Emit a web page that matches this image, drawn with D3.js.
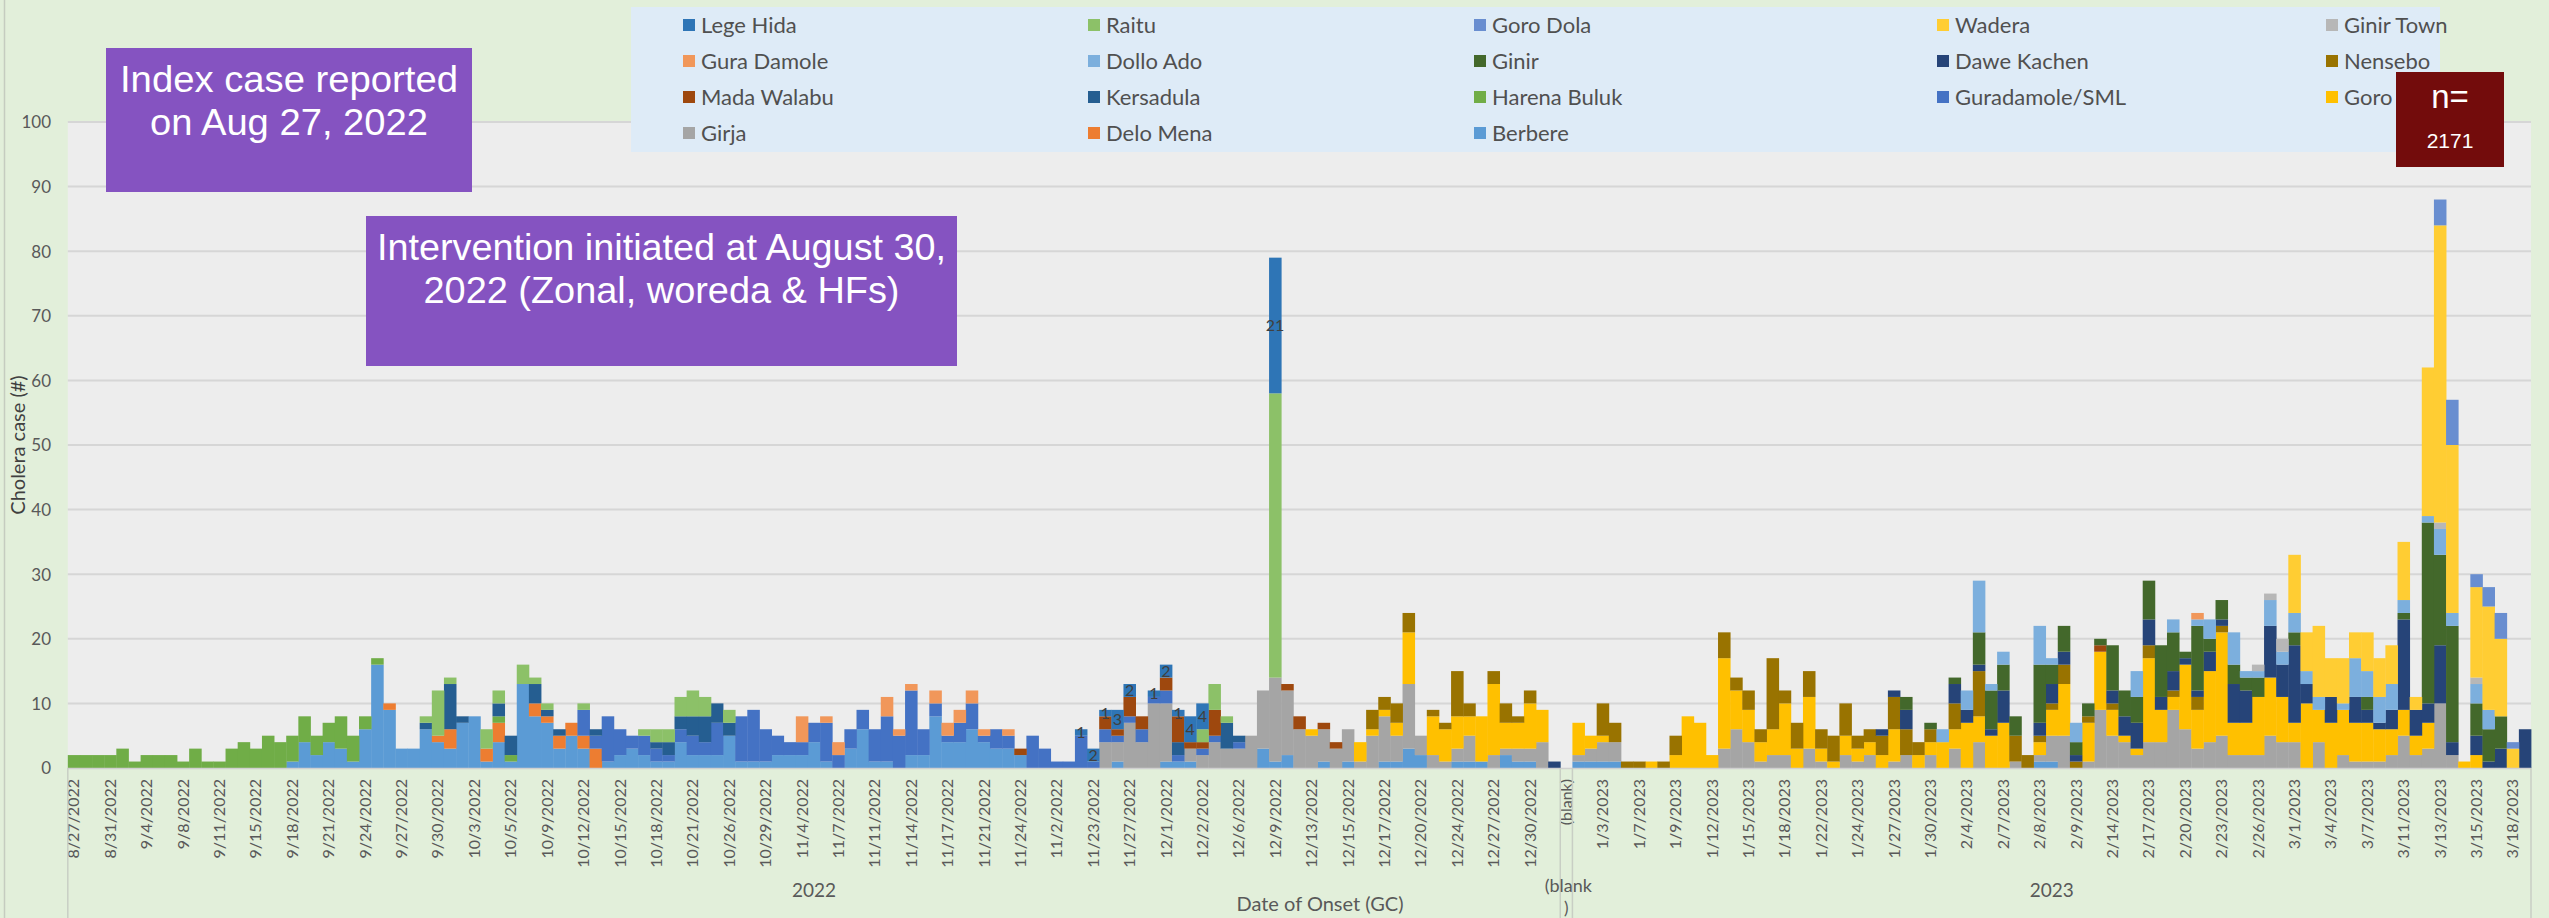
<!DOCTYPE html>
<html><head><meta charset="utf-8">
<script src="https://cdn.jsdelivr.net/npm/d3@7"></script>
<style>
html,body{margin:0;padding:0;background:#E2EFDA;}
svg{display:block;}
</style></head><body>
<svg id="chart" width="2549" height="918"></svg>
<script>
// ---------------- DATA ----------------
const seriesNames  = ["Lege Hida","Raitu","Goro Dola","Wadera","Ginir Town","Gura Damole","Dollo Ado","Ginir","Dawe Kachen","Nensebo","Mada Walabu","Kersadula","Harena Buluk","Guradamole/SML","Goro","Girja","Delo Mena","Berbere"];
const seriesKeys   = ["LH","RA","GD","WA","GT","GU","DA","GI","DK","NE","MW","KE","HB","GS","GO","GJ","DM","BE"];
const seriesColors = ["#2E75B6","#8CC168","#698ED0","#FFCD33","#B7B7B7","#F1975A","#7CAFDD","#43682B","#264478","#997300","#9E480E","#255E91","#70AD47","#4472C4","#FFC000","#A5A5A5","#ED7D31","#5B9BD5"];

// cases per onset date (category), 2022 group
const cases2022 = [
{HB:2},{HB:2},{HB:2},{HB:2},{HB:3},{HB:1},{HB:2},{HB:2},{HB:2},{HB:1},
{HB:3},{HB:1},{HB:1},{HB:3},{HB:4},{HB:3},{HB:5},{HB:4},{BE:1,HB:4},{BE:4,HB:4},
{BE:2,HB:3},{BE:4,HB:3},{BE:3,HB:5},{BE:1,HB:4},{BE:6,HB:2},{BE:16,HB:1},{BE:9,DM:1},{BE:3},{BE:3},{BE:6,KE:1,RA:1},
{BE:4,DM:1,RA:7},{BE:3,DM:3,KE:7,RA:1},{BE:7,KE:1},{BE:8},{BE:1,DM:2,RA:3},{BE:4,DM:3,HB:1,KE:2,RA:2},{BE:1,HB:1,KE:3},{BE:13,RA:3},{BE:8,DM:2,KE:3,RA:1},{BE:7,DM:1,KE:1,RA:1},
{BE:3,DM:2,KE:1},{BE:5,DM:2},{BE:3,DM:2,GS:4,RA:1},{DM:3,GS:2,KE:1},{BE:1,GS:7},{BE:2,GS:4},{BE:3,GS:2},{BE:2,GS:3,RA:1},{BE:1,GS:2,KE:1,RA:2},{BE:1,GS:1,KE:2,RA:2},
{BE:4,GS:2,KE:2,RA:3},{BE:2,GS:3,KE:3,RA:4},{BE:2,GS:2,KE:4,RA:3},{BE:2,GS:5,KE:3},{BE:5,KE:2,RA:2},{BE:1,GS:7},{BE:1,GS:8},{BE:1,GS:5},{BE:2,GS:3},{BE:2,GS:2},
{BE:2,GS:2,GU:4},{BE:4,GS:3},{BE:1,GS:6,GU:1},{GS:2,GU:2},{BE:3,GS:3},{BE:6,GS:3},{BE:1,GS:5},{BE:1,GS:7,GU:3},{GS:5,GU:1},{BE:2,GS:10,GU:1},
{BE:2,GS:4},{BE:8,GS:2,GU:2},{BE:4,GS:1,GU:2},{BE:4,GS:3,GU:2},{BE:6,GS:4,GU:2},{BE:4,GS:1,GU:1},{BE:3,GS:3},{BE:3,GS:2,GU:1},{BE:2,MW:1},{GS:5},
{GS:3},{GS:1},{GS:1},{GS:5,LH:1},{GS:1,LH:2},{GJ:4,GS:2,MW:2,LH:1},{BE:1,GJ:3,GS:1,MW:1,LH:3},{GJ:7,GS:1,MW:3,LH:2},{GJ:4,GS:2,MW:2},{GJ:10,GS:1,LH:1},
{BE:1,GJ:9,GS:2,MW:2,LH:2},{BE:1,GS:1,KE:2,MW:4,LH:1},{BE:1,GJ:2,MW:1,LH:4},{GJ:2,GS:1,MW:1,RA:2,LH:4},{GJ:4,GS:1,MW:4,RA:4},{GJ:3,KE:4,RA:1},{GJ:3,GS:1,KE:1},{GJ:5},{BE:3,GJ:9},{BE:1,GJ:13,RA:44,LH:21},
{BE:2,GJ:10,MW:1},{GJ:6,MW:2},{GJ:5,GO:1},{BE:1,GJ:5,MW:1},{GJ:3,MW:1},{BE:1,GJ:5},{GJ:1,GO:3},{GJ:5,GO:1,NE:3},{BE:1,GJ:7,GO:1,NE:2},{BE:1,GJ:4,GO:2,NE:3},
{BE:3,GJ:10,GO:8,NE:3},{BE:2,GJ:3},{GJ:2,GO:6,NE:1},{GJ:1,GO:5,NE:1},{BE:1,GJ:2,GO:5,NE:7},{BE:1,GJ:4,GO:3,NE:2},{BE:1,GO:7},{GJ:2,GO:11,NE:2},{BE:2,GJ:1,GO:4,NE:3},{BE:1,GJ:2,GO:4,NE:1},
{BE:1,GJ:2,GO:7,NE:2},{GJ:4,GO:5},{DK:1}
];
// (blank) group
const casesBlank = [{}];
// 2023 group
const cases2023 = [
{BE:1,GJ:1,GO:5},{BE:1,GJ:2,GO:2},{BE:1,GJ:3,GO:1,NE:5},{BE:1,GJ:3,NE:3},{NE:1},{NE:1},{GO:1},{NE:1},{GO:2,NE:3},{GO:8},
{GO:7},{GO:2},{GJ:3,GO:14,NE:4},{GJ:6,GO:6,NE:2},{GJ:4,GO:5,NE:3},{GJ:1,GO:3,NE:2},{GJ:2,GO:4,NE:11},{GJ:2,GO:8,NE:2},{GO:3,NE:4},{GJ:3,GO:8,NE:4},
{GJ:1,GO:2,NE:3},{GO:1,NE:4},{GJ:2,GO:3,NE:5},{GJ:1,GO:2,NE:2},{GJ:2,GO:2,NE:2},{GO:2,NE:3,DK:1},{GJ:1,GO:5,NE:5,DK:1},{GJ:2,NE:4,DK:3,GI:2},{GO:2,NE:2},{GJ:2,GO:2,NE:2,GI:1},
{GO:4,DA:2},{GJ:3,GO:3,NE:4,DK:3,GI:1},{GO:7,DK:2,DA:3},{GJ:4,GO:4,NE:7,DK:1,GI:5,DA:8},{GO:5,DK:1,GI:6,DA:1},{GO:7,DK:5,GI:4,DA:2},{GJ:1,NE:4,GI:3},{NE:2},{BE:1,GJ:1,GO:2,NE:1,DK:2,GI:9,DA:6},{BE:1,GJ:4,GO:4,NE:1,DK:3,GI:3,DA:1},
{GJ:5,GO:8,NE:3,DK:2,GI:4},{NE:1,DK:1,GI:2,DA:3},{GJ:1,GO:6,NE:1,GI:2},{GJ:9,GO:9,MW:1,GI:1},{GJ:5,GO:4,NE:1,DK:2,GI:7},{GJ:4,GO:1,DK:3,GI:4},{GJ:2,GO:1,DK:4,GI:4,DA:4},{GJ:4,GO:13,NE:2,DK:4,GI:6},{GJ:4,GO:5,DK:2,GI:8},{GJ:9,GO:2,NE:1,DK:3,GI:6,DA:2},
{GJ:6,GO:10,DK:1,GI:1},{GJ:3,GO:6,NE:2,DK:1,GI:10,DA:1,GU:1},{GJ:4,GO:11,DK:3,GI:2,DA:3},{GJ:5,GO:16,NE:1,DK:1,GI:3},{GJ:2,GO:5,DK:6,GI:3,DA:5},{GJ:2,GO:5,DK:5,GI:2,DA:1},{GJ:2,GO:9,GI:3,DA:1,GT:1},{GJ:5,GO:9,DK:8,DA:4,GT:1},{GJ:4,GO:7,DK:5,DA:2,GT:2},{GJ:4,GO:3,DK:12,GI:2,DA:3,WA:9},
{GO:10,DK:3,DA:2,WA:6},{GJ:4,GO:5,DA:2,WA:11},{GO:7,DK:4,WA:6},{GJ:2,GO:7,DA:1,WA:7},{GJ:1,GO:6,DK:4,DA:6,WA:4},{GJ:1,GO:6,DK:2,GI:2,DA:4,WA:6},{GJ:1,GO:5,DK:1,DA:4,WA:6},{GJ:2,GO:4,DK:3,DA:4,WA:6},{GJ:5,GO:4,DK:14,GI:1,DA:2,WA:9},{GJ:2,GO:3,DK:4,WA:2},
{GJ:3,GO:4,DK:3,GI:28,DA:1,WA:23},{GJ:10,DK:9,GI:14,DA:4,GT:1,WA:46,GD:4},{GJ:2,DK:2,GI:18,DA:2,WA:26,GD:7},{GO:1},{GO:2,DK:3,GI:5,DA:3,GT:1,WA:14,GD:2},{DK:1,GI:5,DA:3,WA:16,GD:3},{DK:3,GI:5,WA:12,GD:4},{WA:3,GD:1},{DK:6}
];

// tick labels (every third category)
const tickLabels2022 = ["8/27/2022","8/31/2022","9/4/2022","9/8/2022","9/11/2022","9/15/2022","9/18/2022","9/21/2022","9/24/2022","9/27/2022","9/30/2022","10/3/2022","10/5/2022","10/9/2022","10/12/2022","10/15/2022","10/18/2022","10/21/2022","10/26/2022","10/29/2022","11/4/2022","11/7/2022","11/11/2022","11/14/2022","11/17/2022","11/21/2022","11/24/2022","11/2/2022","11/23/2022","11/27/2022","12/1/2022","12/2/2022","12/6/2022","12/9/2022","12/13/2022","12/15/2022","12/17/2022","12/20/2022","12/24/2022","12/27/2022","12/30/2022"];
const tickLabelsBlank = ["(blank)"];
const tickLabels2023 = ["1/3/2023","1/7/2023","1/9/2023","1/12/2023","1/15/2023","1/18/2023","1/22/2023","1/24/2023","1/27/2023","1/30/2023","2/4/2023","2/7/2023","2/8/2023","2/9/2023","2/14/2023","2/17/2023","2/20/2023","2/23/2023","2/26/2023","3/1/2023","3/4/2023","3/7/2023","3/11/2023","3/13/2023","3/15/2023","3/18/2023"];
const groupLabels = ["2022","(blank)","2023"];
const yTicks = [0,10,20,30,40,50,60,70,80,90,100];
const totalCases = 2171;

// ---------------- CHART ----------------
const FONT = "Lato, 'Open Sans', sans-serif";
const counts = cases2022.concat(casesBlank, cases2023);
const tickLabels = tickLabels2022.concat(tickLabelsBlank, tickLabels2023);
const groupSizes = [cases2022.length, casesBlank.length, cases2023.length];

const svg = d3.select("#chart");
const P = {left:67.8, right:2531, top:122, bottom:768};

const x = d3.scaleBand().domain(d3.range(counts.length)).range([P.left, P.right]).padding(0);
const y = d3.scaleLinear().domain([0,100]).range([P.bottom, P.top]);
const color = d3.scaleOrdinal().domain(seriesKeys).range(seriesColors);

// backgrounds
svg.append("rect").attr("x",0).attr("y",0).attr("width",2549).attr("height",918).attr("fill","#E2EFDA");
svg.append("line").attr("x1",4.5).attr("x2",4.5).attr("y1",0).attr("y2",918).attr("stroke","#C5CCC0").attr("stroke-width",1.5);
svg.append("rect").attr("x",P.left).attr("y",P.top).attr("width",P.right-P.left).attr("height",P.bottom-P.top).attr("fill","#EDEDED");

// gridlines + y axis
const yAxis = d3.axisLeft(y).tickValues(yTicks).tickSize(0).tickPadding(0);
const gy = svg.append("g").attr("transform",`translate(51,0)`).call(yAxis);
gy.select(".domain").remove();
gy.selectAll("text").attr("font-family",FONT).attr("font-size",17).attr("fill","#595959").attr("text-anchor","end").attr("dy","0.35em");
svg.append("g").selectAll("line").data(yTicks.filter(d=>d>0)).join("line")
  .attr("x1",P.left).attr("x2",P.right).attr("y1",d=>y(d)).attr("y2",d=>y(d))
  .attr("stroke","#D6D6D6").attr("stroke-width",2);

// stacked bars (first series on top)
const stackKeys = seriesKeys.slice().reverse();
const stacked = d3.stack().keys(stackKeys).value((d,k)=>d[k]||0)(counts);
const bw = x.bandwidth();
svg.append("g").selectAll("g").data(stacked).join("g")
  .attr("fill",s=>color(s.key))
  .selectAll("rect").data(s=>s.map((p,i)=>({p,i})).filter(o=>o.p[1]>o.p[0])).join("rect")
  .attr("x",o=>x(o.i)).attr("width",bw+0.4)
  .attr("y",o=>y(o.p[1])).attr("height",o=>y(o.p[0])-y(o.p[1]));

// data labels for Lege Hida
const lh = stacked.find(s=>s.key==="LH");
svg.append("g").selectAll("text").data(lh.map((p,i)=>({p,i})).filter(o=>o.p[1]>o.p[0])).join("text")
  .attr("x",o=>x(o.i)+bw/2).attr("y",o=>y((o.p[0]+o.p[1])/2)).attr("dy","0.36em")
  .attr("text-anchor","middle").attr("font-family",FONT).attr("font-size",16)
  .attr("fill","#404040").text(o=>o.p[1]-o.p[0]);

// x axis line
svg.append("line").attr("x1",P.left).attr("x2",P.right).attr("y1",P.bottom+0.5).attr("y2",P.bottom+0.5).attr("stroke","#D0D0D0").attr("stroke-width",1.5);

// x tick labels
const tickIdx = d3.range(0, counts.length, 3);
const xAxis = d3.axisBottom(x).tickValues(tickIdx).tickSize(0).tickFormat(i=>tickLabels[i/3]);
const gx = svg.append("g").attr("transform",`translate(0,${P.bottom})`).call(xAxis);
gx.select(".domain").remove();
gx.selectAll("text").attr("font-family",FONT).attr("font-size",16).attr("fill","#595959")
  .attr("text-anchor","end").attr("transform","translate(0,11) rotate(-90)").attr("x",0).attr("y",0).attr("dy","0.35em");

// group separators and labels
let start = 0;
const bounds = [];
groupSizes.forEach(n=>{ bounds.push([start, start+n-1]); start += n; });
const sepX = [x(0), x(bounds[0][1])+bw, x(bounds[1][0])+bw, x(bounds[2][1])+bw];
svg.append("g").selectAll("line").data(sepX).join("line")
  .attr("x1",d=>d).attr("x2",d=>d).attr("y1",P.bottom).attr("y2",918)
  .attr("stroke","#C8CEC4").attr("stroke-width",1.5);
const gl = svg.append("g").attr("font-family",FONT).attr("fill","#595959").attr("text-anchor","middle");
bounds.forEach((b,gi)=>{
  const cx = (x(b[0]) + x(b[1]) + bw)/2;
  if (groupLabels[gi]==="(blank)") {
    gl.append("text").attr("x",cx+2).attr("y",892).attr("font-size",18).text("(blank");
    gl.append("text").attr("x",cx).attr("y",914).attr("font-size",17).text(")");
  } else {
    gl.append("text").attr("x",cx).attr("y",897).attr("font-size",19).text(groupLabels[gi]);
  }
});

// axis titles
svg.append("text").attr("x",1320).attr("y",911).attr("text-anchor","middle")
  .attr("font-family",FONT).attr("font-size",20).attr("fill","#595959").text("Date of Onset (GC)");
svg.append("text").attr("transform","translate(25,445) rotate(-90)").attr("text-anchor","middle")
  .attr("font-family",FONT).attr("font-size",20).attr("fill","#404040").text("Cholera case (#)");

// legend
const lg = svg.append("g");
lg.append("rect").attr("x",631).attr("y",7).attr("width",1809).attr("height",145).attr("fill","#DEEBF7");
const colX = [683, 1088, 1474, 1937, 2326];
const rowY = [25, 61, 97, 133];
seriesNames.forEach((name,i)=>{
  const cx = colX[i%5], cy = rowY[Math.floor(i/5)];
  lg.append("rect").attr("x",cx).attr("y",cy-6).attr("width",12).attr("height",12).attr("fill",seriesColors[i]);
  lg.append("text").attr("x",cx+18).attr("y",cy).attr("dy","0.36em")
    .attr("font-family",FONT).attr("font-size",22).attr("fill","#505050").text(name);
});

// annotations
function box(x0,y0,w,h,fill,lines){
  const g = svg.append("g");
  g.append("rect").attr("x",x0).attr("y",y0).attr("width",w).attr("height",h).attr("fill",fill);
  lines.forEach(l=>{
    const t = g.append("text").attr("x",x0+w/2).attr("y",l.y).attr("text-anchor","middle")
      .attr("font-family","'Liberation Sans Narrow','Arial Narrow','Liberation Sans',sans-serif")
      .attr("font-size",l.size).attr("fill","#FFFFFF").text(l.text);
    if (l.len) t.attr("textLength",l.len).attr("lengthAdjust","spacingAndGlyphs");
  });
}
box(106,48,366,144,"#8553C1",[
  {text:"Index case reported", y:92, size:36, len:338},
  {text:"on Aug 27, 2022", y:135, size:36, len:278}]);
box(366,216,591,150,"#8553C1",[
  {text:"Intervention initiated at August 30,", y:260, size:36, len:569},
  {text:"2022 (Zonal, woreda & HFs)", y:303, size:36, len:476}]);
box(2396,72,108,95,"#730C0C",[
  {text:"n=", y:108, size:33},
  {text:String(totalCases), y:148, size:21}]);
</script>
</body></html>
